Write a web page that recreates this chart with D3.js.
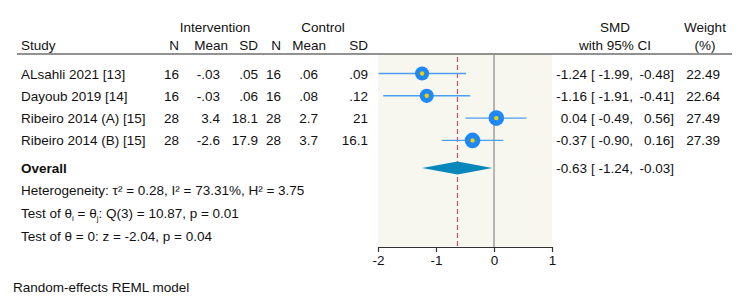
<!DOCTYPE html>
<html>
<head>
<meta charset="utf-8">
<script src="https://cdn.jsdelivr.net/npm/d3@7"></script>
<style>
  body { margin: 0; background: #fff; }
  svg text { font-family: "Liberation Sans", Arial, Helvetica, sans-serif; font-size: 13.5px; fill: #111; white-space: pre; }
</style>
</head>
<body>
<svg id="chart" width="750" height="306"></svg>
<script>
// ---- data ----
const studies = ["ALsahli 2021 [13]", "Dayoub 2019 [14]", "Ribeiro 2014 (A) [15]", "Ribeiro 2014 (B) [15]"];
const intN    = ["16", "16", "28", "28"];
const intMean = ["-.03", "-.03", "3.4", "-2.6"];
const intSD   = [".05", ".06", "18.1", "17.9"];
const ctlN    = ["16", "16", "28", "28"];
const ctlMean = [".06", ".08", "2.7", "3.7"];
const ctlSD   = [".09", ".12", "21", "16.1"];
const smd     = [-1.24, -1.16, 0.04, -0.37];
const ciLow   = [-1.99, -1.91, -0.49, -0.90];
const ciHigh  = [-0.48, -0.41, 0.56, 0.16];
const weight  = [22.49, 22.64, 27.49, 27.39];
const overall = { est: -0.63, lo: -1.24, hi: -0.03 };
const xTicks  = [-2, -1, 0, 1];

// ---- layout ----
const svg = d3.select("#chart");
const x = d3.scaleLinear().domain([-2, 1]).range([378, 552]);
const rowY = d3.scaleLinear().domain([0, 1]).range([73.5, 95.8]); // row index -> centre y
const panelTop = 54, panelBottom = 247;
const f2 = d3.format(".2f");
const fmt = v => f2(v).replace("−", "-");

// panel background
svg.append("rect").attr("x", x(-2)).attr("y", panelTop)
  .attr("width", x(1) - x(-2)).attr("height", panelBottom - panelTop)
  .attr("fill", "#f7f6ef");

// header rule
svg.append("line").attr("x1", 17).attr("x2", 732).attr("y1", panelTop).attr("y2", panelTop)
  .attr("stroke", "#6e6e6e").attr("stroke-width", 1.6);

// headers
const hdr = (t, xx, yy, anchor) => svg.append("text").attr("x", xx).attr("y", yy)
  .attr("text-anchor", anchor).text(t);
hdr("Intervention", 215, 32, "middle");
hdr("Control", 323, 32, "middle");
hdr("Study", 21, 50, "start");
hdr("N", 179, 50, "end");
hdr("Mean", 228, 50, "end");
hdr("SD", 258, 50, "end");
hdr("N", 281, 50, "end");
hdr("Mean", 326, 50, "end");
hdr("SD", 368, 50, "end");
hdr("SMD", 615, 32, "middle");
hdr("with 95% CI", 615, 50, "middle");
hdr("Weight", 705, 32, "middle");
hdr("(%)", 705, 50, "middle");

// zero line & overall dashed line
svg.append("line").attr("x1", x(0)).attr("x2", x(0)).attr("y1", panelTop).attr("y2", panelBottom)
  .attr("stroke", "#8a8a8a").attr("stroke-width", 1.2);
svg.append("line").attr("x1", x(overall.est)).attr("x2", x(overall.est))
  .attr("y1", panelTop + 3).attr("y2", panelBottom)
  .attr("stroke", "#c8506a").attr("stroke-width", 1.2).attr("stroke-dasharray", "5,3");

// study rows
const rows = svg.append("g").selectAll("g").data(studies).join("g");
const base = (d, i) => rowY(i) + 5;
rows.append("text").attr("x", 21).attr("y", base).text(d => d);
const col = (arr, xx) => rows.append("text").attr("x", xx).attr("y", base)
  .attr("text-anchor", "end").text((d, i) => arr[i]);
col(intN, 179); col(intMean, 220); col(intSD, 258);
col(ctlN, 281); col(ctlMean, 318); col(ctlSD, 368);

// CI lines and markers
const rScale = d3.scaleSqrt().domain([0, d3.max(weight)]).range([0, 7.8]);
rows.append("line").attr("x1", (d, i) => x(ciLow[i])).attr("x2", (d, i) => x(ciHigh[i]))
  .attr("y1", (d, i) => rowY(i)).attr("y2", (d, i) => rowY(i))
  .attr("stroke", "#4c9ef0").attr("stroke-width", 1.4);
rows.append("circle").attr("cx", (d, i) => x(smd[i])).attr("cy", (d, i) => rowY(i))
  .attr("r", (d, i) => rScale(weight[i])).attr("fill", "#1e88f5");
rows.append("circle").attr("cx", (d, i) => x(smd[i])).attr("cy", (d, i) => rowY(i))
  .attr("r", 2.2).attr("fill", "#f5d000");

// SMD text columns
const ciText = (sel, est, lo, hi, yy) => {
  sel.append("text").attr("x", 587).attr("y", yy).attr("text-anchor", "end").text(est);
  sel.append("text").attr("x", 591).attr("y", yy).attr("text-anchor", "start").text("[");
  sel.append("text").attr("x", 633).attr("y", yy).attr("text-anchor", "end").text(lo + ",");
  sel.append("text").attr("x", 674).attr("y", yy).attr("text-anchor", "end").text(hi + "]");
};
rows.each(function (d, i) {
  const g = d3.select(this);
  ciText(g, fmt(smd[i]), fmt(ciLow[i]), fmt(ciHigh[i]), base(d, i));
  g.append("text").attr("x", 720).attr("y", base(d, i)).attr("text-anchor", "end").text(f2(weight[i]));
});

// overall
const oy = 168;
svg.append("text").attr("x", 21).attr("y", oy + 5).attr("font-weight", "bold").text("Overall");
svg.append("path")
  .attr("d", `M${x(overall.lo)},${oy} L${x(overall.est)},${oy - 6.5} L${x(overall.hi)},${oy} L${x(overall.est)},${oy + 6.5} Z`)
  .attr("fill", "#0a87ba");
ciText(svg, fmt(overall.est), fmt(overall.lo), fmt(overall.hi), oy + 5);

// statistics lines
svg.append("text").attr("x", 21).attr("y", 195)
  .text("Heterogeneity: τ² = 0.28, I² = 73.31%, H² = 3.75");
const s2 = svg.append("text").attr("x", 21).attr("y", 218);
s2.append("tspan").text("Test of θ");
s2.append("tspan").style("font-size", "8px").attr("dy", 3).text("i");
s2.append("tspan").attr("dy", -3).text(" = θ");
s2.append("tspan").style("font-size", "8px").attr("dy", 3).text("j");
s2.append("tspan").attr("dy", -3).text(": Q(3) = 10.87, p = 0.01");
svg.append("text").attr("x", 21).attr("y", 241).text("Test of θ = 0: z = -2.04, p = 0.04");

// axis
const axis = d3.axisBottom(x).tickValues(xTicks).tickSize(5).tickSizeOuter(0)
  .tickFormat(d => String(d));
const ag = svg.append("g").attr("transform", `translate(0,${panelBottom})`).call(axis);
ag.selectAll("path,line").attr("stroke", "#333").attr("stroke-width", 1.2);
ag.selectAll("text").attr("font-size", "13.5px").attr("fill", "#111").attr("dy", "0.75em")
  .style("font-family", "'Liberation Sans', Arial, sans-serif");

// note
svg.append("text").attr("x", 13).attr("y", 292).text("Random-effects REML model");
</script>
</body>
</html>
